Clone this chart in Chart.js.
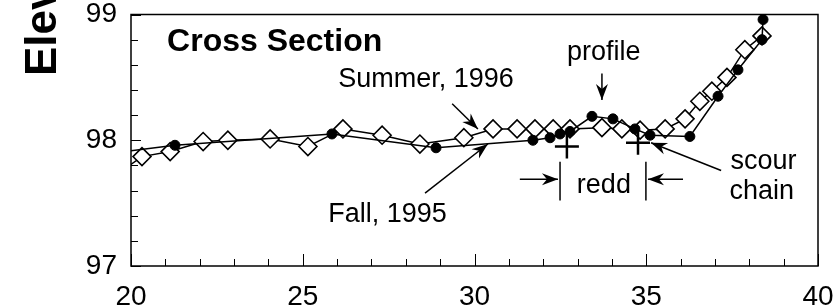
<!DOCTYPE html>
<html><head><meta charset="utf-8">
<script src="https://cdn.jsdelivr.net/npm/chart.js@4/dist/chart.umd.min.js"></script>
<style>html,body{margin:0;padding:0;background:#fff}#wrap{width:834px;height:306px;position:relative}canvas{display:block}</style>
</head><body><div id="wrap"><canvas id="c" width="834" height="306" style="width:834px;height:306px"></canvas></div>
<script>
// ---- data ----
const fallX   = [19.8, 21.28, 25.85, 28.88, 31.70, 32.20, 32.49, 32.78, 33.42, 34.03, 34.67, 35.11, 36.27, 37.09, 37.67, 38.37, 38.40];
const fallY   = [97.91, 97.96, 98.05, 97.94, 98.00, 98.02, 98.05, 98.07, 98.19, 98.17, 98.09, 98.04, 98.03, 98.35, 98.56, 98.80, 98.96];
const summerX = [19.8, 20.32, 21.14, 22.10, 22.82, 24.05, 25.15, 26.17, 27.31, 28.41, 29.69, 30.54, 31.24, 31.76, 32.29, 32.78, 33.71, 34.29, 34.82, 35.55, 36.13, 36.56, 36.91, 37.35, 37.87, 38.37];
const summerY = [97.77, 97.87, 97.91, 97.99, 98.00, 98.01, 97.95, 98.09, 98.04, 97.97, 98.02, 98.09, 98.09, 98.09, 98.09, 98.09, 98.10, 98.09, 98.08, 98.09, 98.17, 98.31, 98.39, 98.50, 98.72, 98.83];
const chainX  = [32.69, 34.76];
const chainY  = [97.95, 97.98];
const xTickLabels = [20, 25, 30, 35, 40];
const yTickLabels = [97, 98, 99];
const seriesNames = ['Fall, 1995', 'Summer, 1996', 'scour chain'];

const toPts = (xs, ys) => xs.map((x, i) => ({x, y: ys[i]}));
const FONT = "'Liberation Sans', Arial, Helvetica, sans-serif";

// annotation layout (data coordinates)
const notes = [
  {t: 'Cross Section', x: 21.05, y: 98.71, size: 32, bold: true},
  {t: 'Summer, 1996', x: 26.03, y: 98.42, size: 27},
  {t: 'profile', x: 32.69, y: 98.64, size: 27},
  {t: 'scour', x: 37.45, y: 97.77, size: 27},
  {t: 'chain', x: 37.42, y: 97.535, size: 27},
  {t: 'redd', x: 32.98, y: 97.58, size: 27},
  {t: 'Fall, 1995', x: 25.74, y: 97.35, size: 27}
];
const arrows = [
  {x1: 33.71, y1: 98.53, x2: 33.71, y2: 98.32},
  {x1: 29.35, y1: 98.29, x2: 30.10, y2: 98.09},
  {x1: 28.56, y1: 97.58, x2: 30.39, y2: 97.97},
  {x1: 37.18, y1: 97.76, x2: 35.14, y2: 97.98},
  {x1: 31.32, y1: 97.69, x2: 32.43, y2: 97.69},
  {x1: 36.07, y1: 97.69, x2: 35.05, y2: 97.69}
];
const bars = [
  {x: 32.49, y1: 97.83, y2: 97.52},
  {x: 34.99, y1: 97.83, y2: 97.52}
];

function arrow(ctx, x1, y1, x2, y2) {
  ctx.beginPath(); ctx.moveTo(x1, y1); ctx.lineTo(x2, y2); ctx.stroke();
  const a = Math.atan2(y2 - y1, x2 - x1), L = 16, W = 6, N = 11;
  const c = Math.cos(a), s = Math.sin(a);
  ctx.beginPath();
  ctx.moveTo(x2, y2);
  ctx.lineTo(x2 - L * c + W * s, y2 - L * s - W * c);
  ctx.lineTo(x2 - N * c, y2 - N * s);
  ctx.lineTo(x2 - L * c - W * s, y2 - L * s + W * c);
  ctx.closePath(); ctx.fill();
}

const decor = {
  id: 'decor',
  afterDraw(chart) {
    const {ctx, chartArea: a, scales: {x, y}} = chart;
    ctx.save();
    ctx.strokeStyle = '#000'; ctx.fillStyle = '#000';
    ctx.lineWidth = 1.5;
    ctx.strokeRect(a.left, a.top, a.right - a.left, a.bottom - a.top);
    ctx.lineWidth = 1;
    ctx.beginPath();
    for (let v = 20; v <= 40; v++) {
      const px = Math.round(x.getPixelForValue(v)) + 0.5;
      const len = v % 5 === 0 ? 12 : 7;
      ctx.moveTo(px, a.bottom); ctx.lineTo(px, a.bottom - len);
    }
    for (let k = 0; k <= 10; k++) {
      const v = 97 + k * 0.2;
      const py = Math.round(y.getPixelForValue(v)) + 0.5;
      const len = k % 5 === 0 ? 10 : 7;
      ctx.moveTo(a.left, py); ctx.lineTo(a.left + len, py);
    }
    ctx.stroke();
    ctx.textBaseline = 'alphabetic'; ctx.textAlign = 'left';
    notes.forEach(n => {
      ctx.font = (n.bold ? 'bold ' : '') + n.size + 'px ' + FONT;
      ctx.fillText(n.t, x.getPixelForValue(n.x), y.getPixelForValue(n.y));
    });
    ctx.lineWidth = 1.5;
    arrows.forEach(r => arrow(ctx, x.getPixelForValue(r.x1), y.getPixelForValue(r.y1),
                                  x.getPixelForValue(r.x2), y.getPixelForValue(r.y2)));
    bars.forEach(b => {
      const px = x.getPixelForValue(b.x);
      ctx.beginPath(); ctx.moveTo(px, y.getPixelForValue(b.y1)); ctx.lineTo(px, y.getPixelForValue(b.y2)); ctx.stroke();
    });
    ctx.save();
    ctx.translate(56, 76);
    ctx.rotate(-Math.PI / 2);
    ctx.font = 'bold 44px ' + FONT;
    ctx.fillText('Elevation (m)', 0, 0);
    ctx.restore();
    ctx.restore();
  }
};

const radiusIn = r => c => (c.raw && c.raw.x < 20 ? 0 : r);

new Chart(document.getElementById('c'), {
  type: 'line',
  data: {
    datasets: [
      {label: seriesNames[0], data: toPts(fallX, fallY), order: 1,
       borderColor: '#000', borderWidth: 1.5, backgroundColor: '#000',
       pointStyle: 'circle', pointRadius: radiusIn(5), pointBackgroundColor: '#000', pointBorderWidth: 1},
      {label: seriesNames[1], data: toPts(summerX, summerY), order: 2,
       borderColor: '#000', borderWidth: 1.5, backgroundColor: '#fff',
       pointStyle: 'rectRot', pointRadius: radiusIn(9), pointBackgroundColor: '#fff', pointBorderWidth: 1.6},
      {label: seriesNames[2], data: toPts(chainX, chainY), order: 0, showLine: false,
       borderColor: '#000', pointStyle: 'cross', pointRadius: 12, pointBorderWidth: 2.5}
    ]
  },
  options: {
    responsive: false, maintainAspectRatio: false, animation: false, devicePixelRatio: 1,
    layout: {padding: {top: 12, right: 16, left: 0, bottom: 0}},
    plugins: {legend: {display: false}, tooltip: {enabled: false}},
    scales: {
      x: {type: 'linear', min: 20, max: 40,
          afterBuildTicks: s => { s.ticks = xTickLabels.map(v => ({value: v})); },
          afterFit: s => { s.height = 40; s.paddingLeft = 0; s.paddingRight = 0; },
          grid: {display: false, drawTicks: false}, border: {display: false},
          ticks: {color: '#000', padding: 14, maxRotation: 0, font: {family: FONT, size: 28}}},
      y: {type: 'linear', min: 97, max: 99,
          afterBuildTicks: s => { s.ticks = yTickLabels.map(v => ({value: v})); },
          afterFit: s => { s.width = 131; s.paddingTop = 0; s.paddingBottom = 0; },
          grid: {display: false, drawTicks: false}, border: {display: false},
          ticks: {color: '#000', padding: 14, font: {family: FONT, size: 28}}}
    }
  },
  plugins: [decor]
});
</script>
</body></html>
